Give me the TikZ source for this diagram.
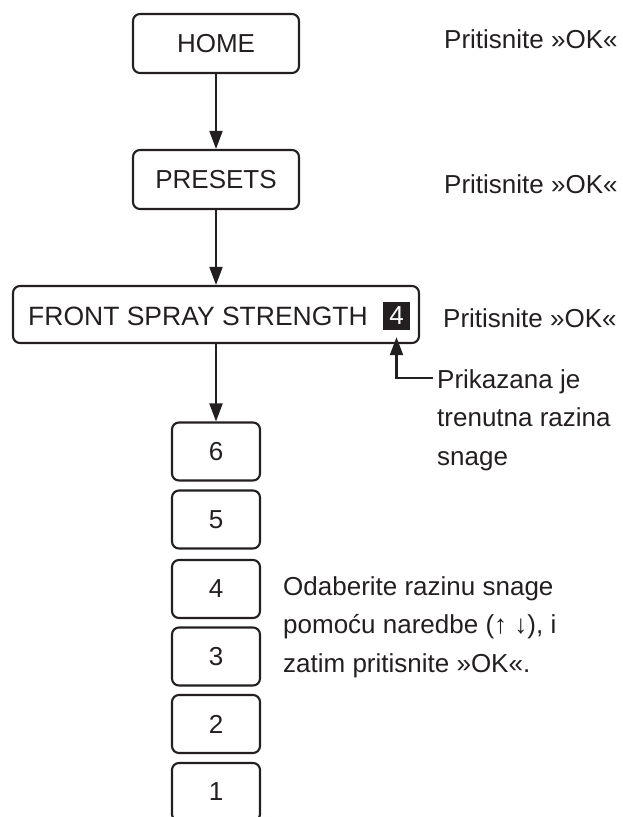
\documentclass[tikz,border=0pt]{standalone}
\usepackage{fontspec}
\setmainfont{Liberation Sans}
\usetikzlibrary{arrows.meta}
\definecolor{ink}{HTML}{231F20}
\begin{document}
\begin{tikzpicture}[x=1pt,y=-1pt,
  every node/.style={font=\fontsize{26}{38.5}\selectfont, text=ink},
  box/.style={draw=ink, line width=2.1pt, rounded corners=7pt, inner sep=0pt},
  numbox/.style={box, minimum width=88pt, minimum height=58pt},
  conn/.style={draw=ink, line width=2.1pt, -{Triangle[width=13pt,length=18pt]}},
  lbl/.style={inner sep=0pt, anchor=base west},
  para/.style={inner sep=0pt, anchor=north west, align=left}]
\useasboundingbox (0,0) rectangle (622,817);
\node[box, minimum width=166pt, minimum height=59pt] (home) at (216,43.5) {HOME};
\node[box, minimum width=166pt, minimum height=59pt] (presets) at (216,179.5) {PRESETS};
\node[box, minimum width=406pt, minimum height=57pt] (front) at (216,314.5) {};
\node[lbl, font=\fontsize{26.5}{38.5}\selectfont] (fronttxt) at (28,325) {FRONT SPRAY STRENGTH};
\node[fill=ink, text=white, minimum width=27pt, minimum height=28pt, inner sep=0pt] (sq) at (396.5,316) {4};
\begin{scope}
\clip (0,0) rectangle (622,817);
\foreach \n/\y in {6/451.5, 5/519.5, 4/589, 3/656.5, 2/724, 1/792}
  \node[numbox] (n\n) at (216,\y) {\n};
\end{scope}
\draw[conn] (home) -- (presets);
\draw[conn] (presets) -- (front);
\draw[conn] (front) -- (n6);
\node[lbl] (ok1) at (444,48) {Pritisnite »OK«};
\node[lbl] (ok2) at (444,193) {Pritisnite »OK«};
\node[lbl] (ok3) at (443,327) {Pritisnite »OK«};
\node[para] (shown) at (437,369) {Prikazana je\\trenutna razina\\snage};
\node[para] (choose) at (283,576) {Odaberite razinu snage\\pomoću naredbe (↑ ↓), i\\zatim pritisnite »OK«.};
\coordinate (lead) at (433,378);
\draw[conn] (lead) -| ([yshift=-7pt]sq.south);
\end{tikzpicture}
\end{document}
